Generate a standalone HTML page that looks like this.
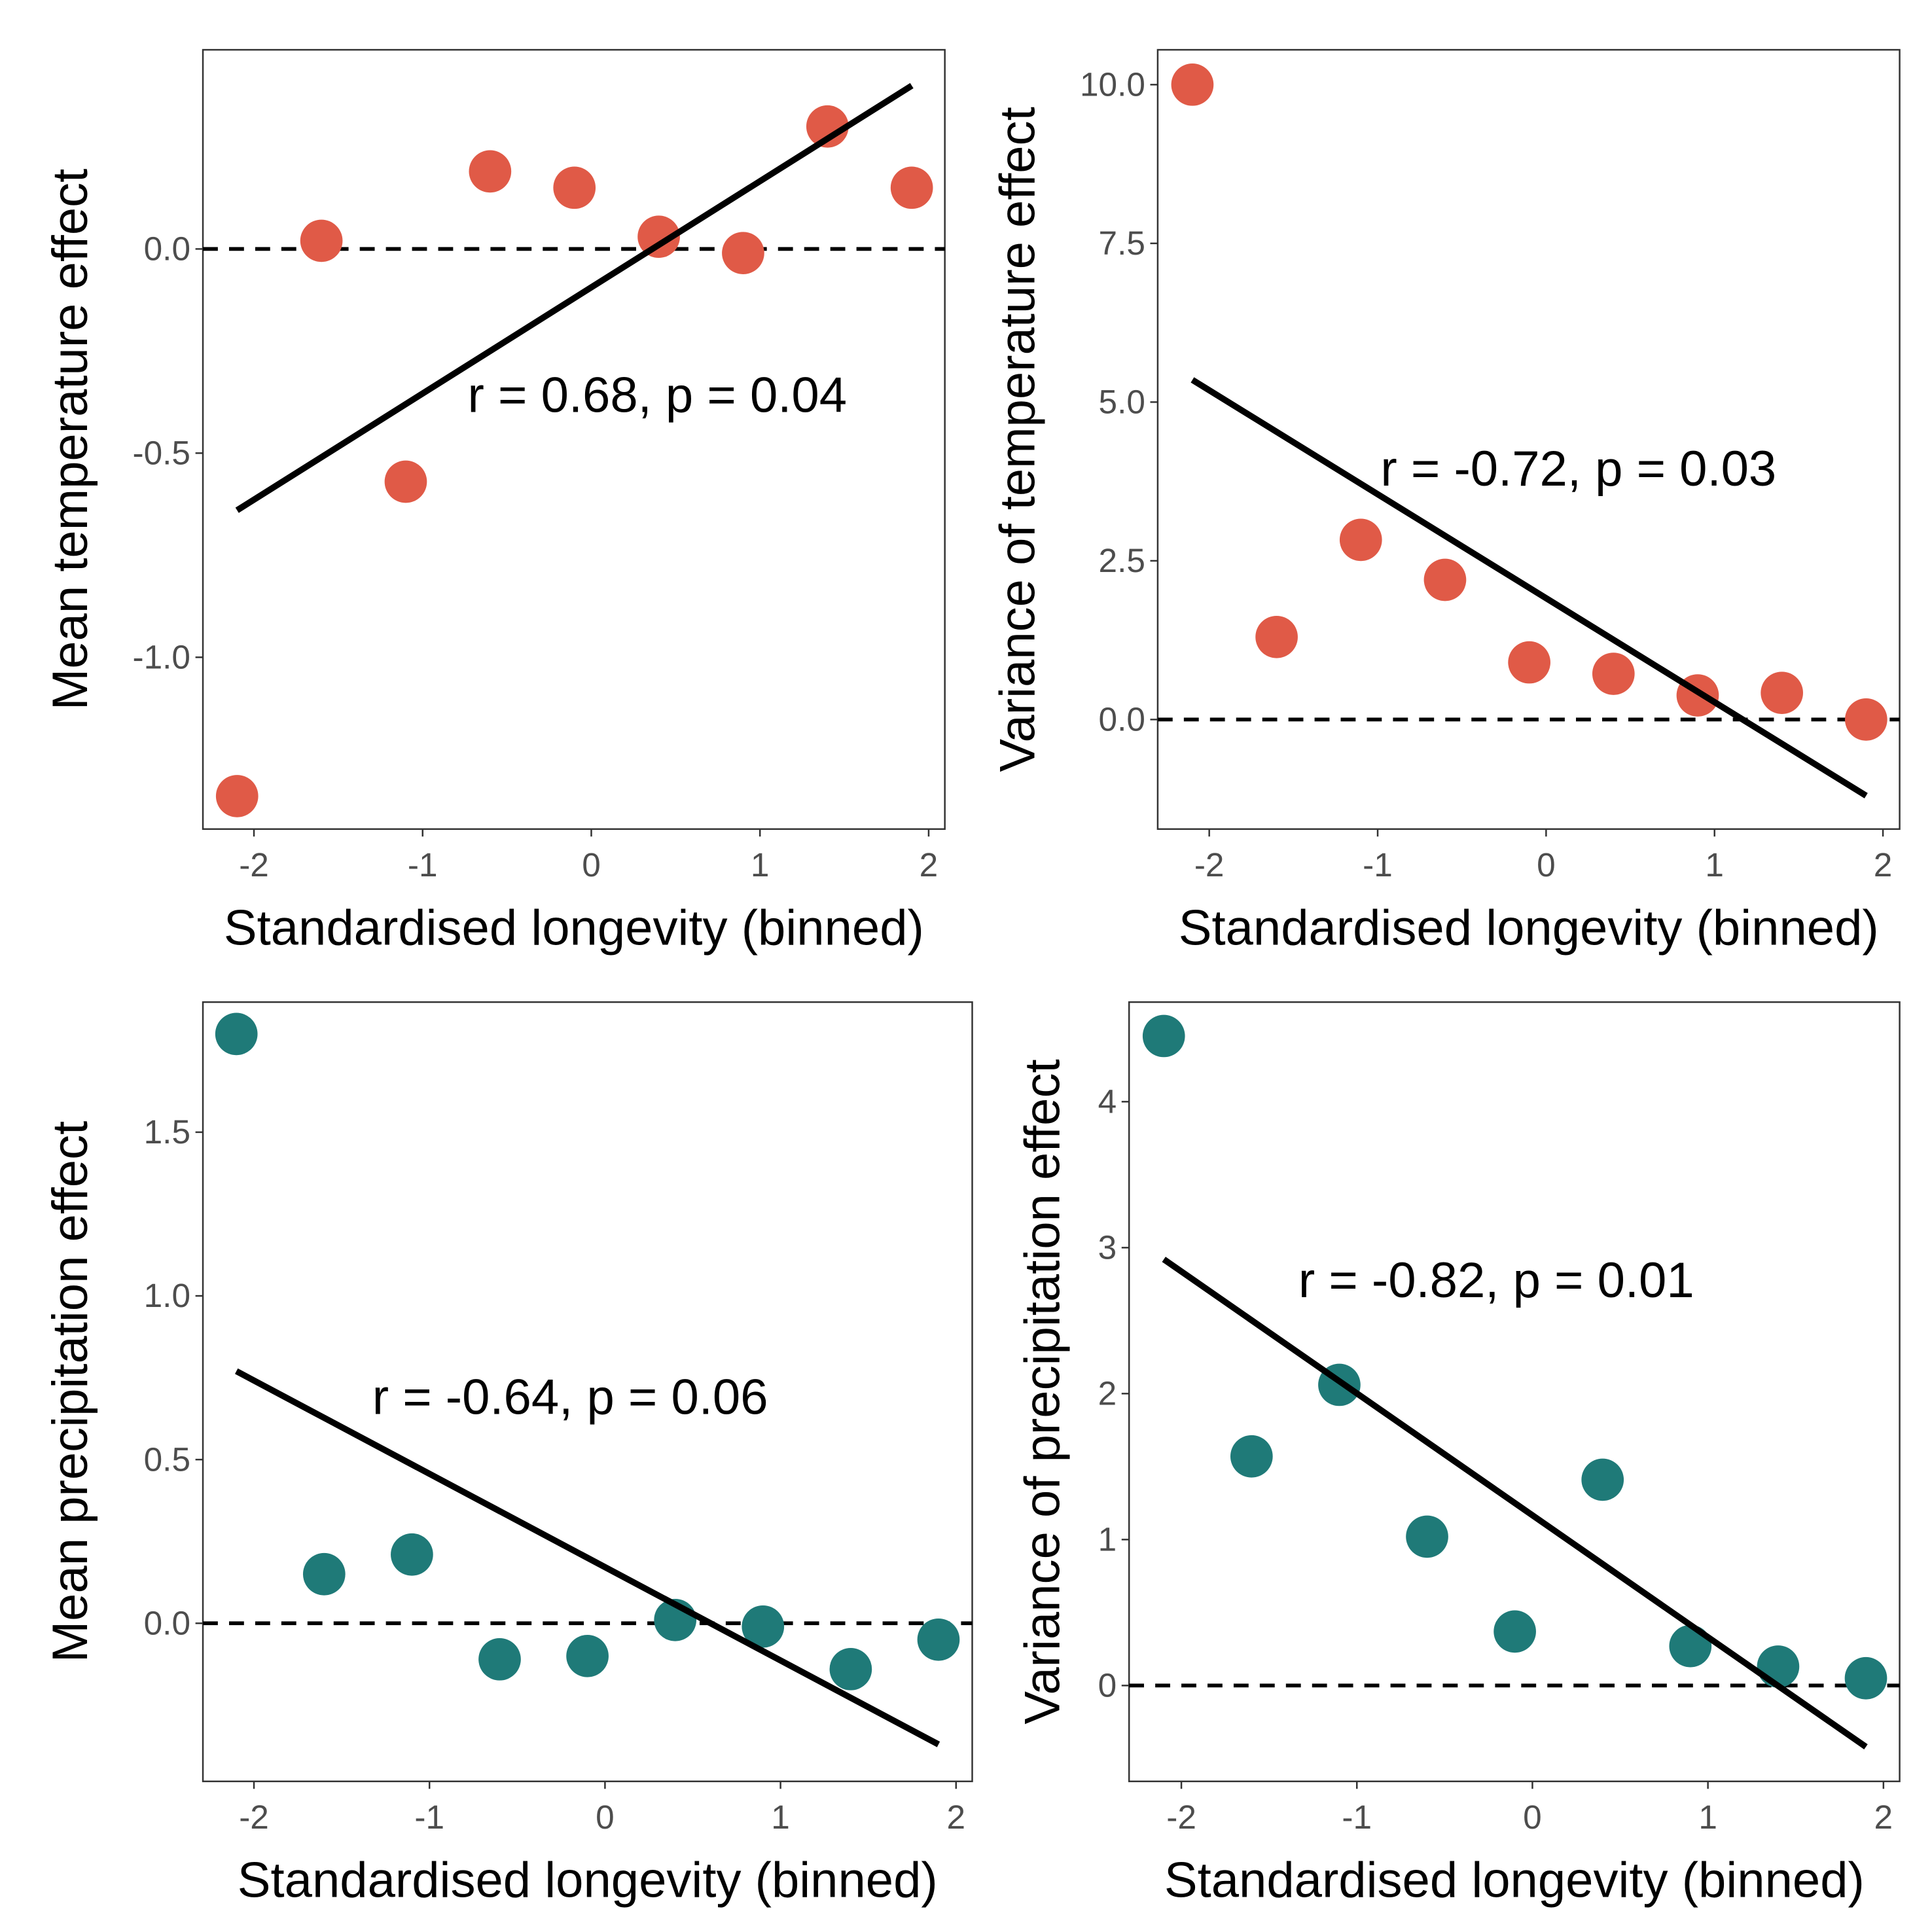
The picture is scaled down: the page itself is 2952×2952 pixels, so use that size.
<!DOCTYPE html>
<html><head><meta charset="utf-8"><style>html,body{margin:0;padding:0;background:#fff}svg{display:block}</style></head>
<body>
<svg id="fig" width="2952" height="2952" viewBox="0 0 1552 1552" xmlns="http://www.w3.org/2000/svg" font-family="Liberation Sans, Arial, sans-serif"></svg>
<script>
const xCats = [-2.1,-1.6,-1.1,-0.6,-0.1,0.4,0.9,1.4,1.9];
const xTicks = [-2,-1,0,1,2];
const meanTemp = [-1.34,0.02,-0.57,0.19,0.15,0.03,-0.01,0.30,0.15];
const varTemp = [10.0,1.3,2.83,2.2,0.9,0.72,0.38,0.42,0.0];
const meanPrec = [1.80,0.15,0.21,-0.11,-0.10,0.01,-0.01,-0.14,-0.05];
const varPrec = [4.45,1.57,2.06,1.02,0.37,1.41,0.27,0.13,0.05];
const fitMeanTemp = [-0.64,0.40];
const fitVarTemp = [5.35,-1.2];
const fitMeanPrec = [0.77,-0.37];
const fitVarPrec = [2.92,-0.42];
const yTicksMeanTemp = [0,-0.5,-1.0];
const yLabMeanTemp = ["0.0","-0.5","-1.0"];
const yTicksVarTemp = [0,2.5,5,7.5,10];
const yLabVarTemp = ["0.0","2.5","5.0","7.5","10.0"];
const yTicksMeanPrec = [0,0.5,1.0,1.5];
const yLabMeanPrec = ["0.0","0.5","1.0","1.5"];
const yTicksVarPrec = [0,1,2,3,4];
const yLabVarPrec = ["0","1","2","3","4"];
const NS="http://www.w3.org/2000/svg";
const svg=document.getElementById('fig');
function mk(tag,attrs,parent){const e=document.createElementNS(NS,tag);for(const k in attrs)e.setAttribute(k,attrs[k]);(parent||svg).appendChild(e);return e;}
function panel(cfg){
  const g=mk('g',{});
  
  
  const sx=v=>cfg.x0+(v-cfg.xa)*cfg.xs;
  const sy=v=>cfg.y0-(v-cfg.ya)*cfg.ys;
  const box=mk('rect',{x:cfg.L,y:cfg.T,width:cfg.R-cfg.L,height:cfg.B-cfg.T,fill:'none',stroke:'#333',"stroke-width":1.3},g);
  
  
  xTicks.forEach(t=>{
    const x=sx(t);
    mk('line',{x1:x,x2:x,y1:cfg.B,y2:cfg.B+6,stroke:'#333',"stroke-width":1.3},g);
    const tx=mk('text',{x:x,y:cfg.B+38,"text-anchor":"middle","font-size":27,fill:'#4d4d4d'},g);
    tx.textContent=String(t);
    
    
  });
  cfg.yt.forEach((t,i)=>{
    const y=sy(t);
    mk('line',{x1:cfg.L-6,x2:cfg.L,y1:y,y2:y,stroke:'#333',"stroke-width":1.3},g);
    const tx=mk('text',{x:cfg.L-10,y:y+9,"text-anchor":"end","font-size":27,fill:'#4d4d4d'},g);
    tx.textContent=cfg.yl[i];
    
    
  });
  const zl=mk('line',{x1:cfg.L,x2:cfg.R,y1:sy(0),y2:sy(0),stroke:'#000',"stroke-width":3,"stroke-dasharray":"12,9"},g);
  
  
  cfg.data.forEach((v,i)=>{
    const c=mk('circle',{cx:sx(xCats[i]),cy:sy(v),r:17,fill:cfg.color},g);
    
    
  });
  const fl=mk('line',{x1:sx(xCats[0]),y1:sy(cfg.fit[0]),x2:sx(xCats[xCats.length-1]),y2:sy(cfg.fit[1]),stroke:'#000',"stroke-width":5},g);
  
  
  const an=mk('text',{x:cfg.ax,y:cfg.ay,"text-anchor":"middle","font-size":40,fill:'#000'},g);
  an.textContent=cfg.ann;
  
  
  const xt=mk('text',{x:(cfg.L+cfg.R)/2,y:cfg.B+93,"text-anchor":"middle","font-size":40,fill:'#000'},g);
  xt.textContent='Standardised longevity (binned)';
  
  
  const cy=(cfg.T+cfg.B)/2;
  const yt=mk('text',{x:cfg.ytx,y:cy,"text-anchor":"middle","font-size":40,fill:'#000',transform:`rotate(-90 ${cfg.ytx} ${cy})`},g);
  yt.textContent=cfg.ytitle;
  
  
}
const red='#E05A47', teal='#1F7A78';
panel({name:'panel-mean-temperature',L:163,R:759,T:40,B:666,x0:475,xa:0,xs:135.5,y0:200,ya:0,ys:328,yt:yTicksMeanTemp,yl:yLabMeanTemp,data:meanTemp,fit:fitMeanTemp,color:red,ann:'r = 0.68, p = 0.04',ax:528,ay:331,ytitle:'Mean temperature effect',ytx:70});
panel({name:'panel-variance-temperature',L:930,R:1526,T:40,B:666,x0:1242,xa:0,xs:135.3,y0:578,ya:0,ys:51,yt:yTicksVarTemp,yl:yLabVarTemp,data:varTemp,fit:fitVarTemp,color:red,ann:'r = -0.72, p = 0.03',ax:1268,ay:390,ytitle:'Variance of temperature effect',ytx:831});
panel({name:'panel-mean-precipitation',L:163,R:781,T:805,B:1431,x0:486,xa:0,xs:141,y0:1304,ya:0,ys:263,yt:yTicksMeanPrec,yl:yLabMeanPrec,data:meanPrec,fit:fitMeanPrec,color:teal,ann:'r = -0.64, p = 0.06',ax:458,ay:1136,ytitle:'Mean precipitation effect',ytx:70});
panel({name:'panel-variance-precipitation',L:907,R:1526,T:805,B:1431,x0:1231,xa:0,xs:141,y0:1354,ya:0,ys:117.25,yt:yTicksVarPrec,yl:yLabVarPrec,data:varPrec,fit:fitVarPrec,color:teal,ann:'r = -0.82, p = 0.01',ax:1202,ay:1042,ytitle:'Variance of precipitation effect',ytx:851});
</script>
</body></html>
